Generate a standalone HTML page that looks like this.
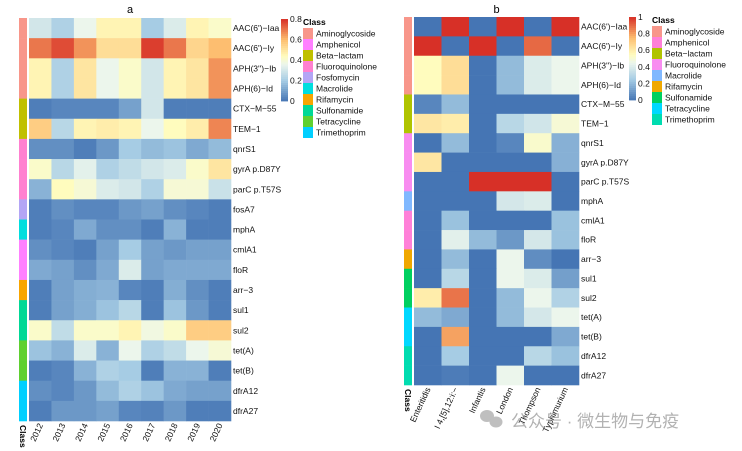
<!DOCTYPE html>
<html><head><meta charset="utf-8"><style>
body{margin:0;background:#fff;}
svg{display:block;font-family:"Liberation Sans",Arial,sans-serif;}
</style></head><body>
<svg id="chart" width="742" height="451" viewBox="0 0 742 451" xmlns="http://www.w3.org/2000/svg"></svg>
<script>
const rowsA=["AAC(6')−Iaa","AAC(6')−Iy","APH(3'')−Ib","APH(6)−Id","CTX−M−55","TEM−1","qnrS1","gyrA p.D87Y","parC p.T57S","fosA7","mphA","cmlA1","floR","arr−3","sul1","sul2","tet(A)","tet(B)","dfrA12","dfrA27"];
const colsA=["2012","2013","2014","2015","2016","2017","2018","2019","2020"];
const valuesA=[
[0.3,0.22,0.36,0.46,0.46,0.2,0.32,0.46,0.42],
[0.7,0.76,0.66,0.52,0.52,0.78,0.7,0.54,0.6],
[0.46,0.22,0.5,0.36,0.42,0.3,0.46,0.5,0.66],
[0.46,0.22,0.5,0.36,0.42,0.3,0.46,0.5,0.66],
[0.02,0.04,0.04,0.04,0.1,0.3,0.02,0.02,0.02],
[0.56,0.24,0.46,0.48,0.46,0.36,0.44,0.48,0.68],
[0.06,0.06,0.02,0.08,0.2,0.16,0.18,0.12,0.16],
[0.42,0.24,0.34,0.22,0.26,0.3,0.32,0.42,0.5],
[0.14,0.44,0.4,0.32,0.3,0.22,0.4,0.4,0.28],
[0.02,0.06,0.04,0.04,0.08,0.1,0.06,0.04,0.02],
[0.02,0.04,0.12,0.06,0.06,0.02,0.14,0.02,0.02],
[0.06,0.04,0.02,0.1,0.2,0.1,0.08,0.1,0.1],
[0.12,0.1,0.06,0.12,0.32,0.1,0.12,0.12,0.12],
[0.02,0.1,0.13,0.14,0.04,0.02,0.13,0.06,0.02],
[0.02,0.1,0.13,0.18,0.24,0.02,0.18,0.08,0.02],
[0.42,0.26,0.42,0.42,0.46,0.38,0.42,0.56,0.56],
[0.18,0.14,0.32,0.14,0.36,0.22,0.26,0.36,0.4],
[0.02,0.04,0.14,0.22,0.2,0.02,0.14,0.14,0.02],
[0.06,0.04,0.08,0.16,0.22,0.18,0.12,0.1,0.1],
[0.02,0.08,0.08,0.1,0.04,0.03,0.08,0.02,0.02]];
const classA=[0,0,0,0,2,2,3,3,3,4,5,1,1,6,7,7,8,8,9,9];
const classNamesA=["Aminoglycoside","Amphenicol","Beta−lactam","Fluoroquinolone","Fosfomycin","Macrolide","Rifamycin","Sulfonamide","Tetracycline","Trimethoprim"];
const classColorsA=["#f8968a","#ff80ff","#c0c000","#ff80d0","#b3a5f5","#00dede","#f8a500","#00d896","#5fd030","#00cfff"];
const ticksA=[0,0.2,0.4,0.6,0.8];

const rowsB=["AAC(6')−Iaa","AAC(6')−Iy","APH(3'')−Ib","APH(6)−Id","CTX−M−55","TEM−1","qnrS1","gyrA p.D87Y","parC p.T57S","mphA","cmlA1","floR","arr−3","sul1","sul2","tet(A)","tet(B)","dfrA12","dfrA27"];
const colsB=["Enteritidis","I 4,[5],12:i:−","Infantis","London","Thompson","Typhimurium"];
const valuesB=[
[0,1,0,1,0,1],
[1,0,1,0,0.9,0],
[0.55,0.65,0,0.2,0.4,0.45],
[0.55,0.65,0,0.2,0.4,0.45],
[0.05,0.2,0,0,0,0],
[0.62,0.6,0,0.3,0.37,0.5],
[0,0.2,0,0.05,0.52,0.17],
[0.62,0,0,0,0,0.17],
[0,0,1,1,1,0],
[0,0,0,0.38,0.4,0],
[0,0.22,0,0,0,0.22],
[0,0.42,0.2,0.1,0.38,0.22],
[0,0.2,0,0.45,0.07,0],
[0,0.3,0,0.45,0.4,0.12],
[0.6,0.88,0,0.2,0.45,0.28],
[0.2,0.15,0,0.2,0.38,0.45],
[0,0.8,0,0,0,0.15],
[0,0.25,0,0,0.3,0.22],
[0,0.02,0,0.45,0,0]];
const classB=[0,0,0,0,2,2,3,3,3,4,1,1,5,6,6,7,7,8,8];
const classNamesB=["Aminoglycoside","Amphenicol","Beta−lactam","Fluoroquinolone","Macrolide","Rifamycin","Sulfonamide","Tetracycline","Trimethoprim"];
const classColorsB=["#f8968a","#ff80d8","#b0c400","#f88cf0","#80b8ff","#f0a800","#00d060","#00d8ff","#00dcb0"];
const ticksB=[0,0.2,0.4,0.6,0.8,1];

const NS="http://www.w3.org/2000/svg";
const svg=document.getElementById('chart');
function mk(tag,attrs,parent,text){const e=document.createElementNS(NS,tag);for(const k in attrs)e.setAttribute(k,attrs[k]);if(text!==undefined)e.textContent=text;(parent||svg).appendChild(e);return e;}
const stops=[[0,[69,117,180]],[0.25,[166,204,228]],[0.45,[236,246,236]],[0.55,[255,252,190]],[0.75,[253,190,112]],[1,[215,48,39]]];
function color(f){f=Math.max(0,Math.min(1,f));for(let i=1;i<stops.length;i++){if(f<=stops[i][0]){const a=stops[i-1],b=stops[i];const t=(f-a[0])/(b[0]-a[0]);const c=a[1].map((v,j)=>Math.round(v+(b[1][j]-v)*t));return `rgb(${c})`;}}return 'rgb(215,48,39)';}

function panel(o){
  const g=mk('g',{});
  
  
  const cw=(o.x1-o.x0)/o.cols.length, rh=(o.y1-o.y0)/o.rows.length;
  const xs=i=>o.x0+i*cw, ys=j=>o.y0+j*rh;
  const t=mk('text',{x:(o.x0+o.x1)/2,y:13,'text-anchor':'middle','font-size':11},g,o.title);
  
  o.values.forEach((row,j)=>row.forEach((v,i)=>{
    const r=mk('rect',{x:xs(i),y:ys(j),width:cw+0.3,height:rh+0.3,fill:color(v/o.max)},g);
    
    
  }));
  o.rows.forEach((n,j)=>{
    const s=mk('rect',{x:o.sx,y:ys(j),width:8,height:rh+0.3,fill:o.classColors[o.cls[j]]},g);
    
    
    const l=mk('text',{x:o.x1+2,y:ys(j)+rh/2+3,'font-size':8.5,fill:'#111'},g,n);
    
    
  });
  o.cols.forEach((n,i)=>{
    const cx=xs(i)+cw/2+3, cy=o.y1+4;
    const l=mk('text',{x:cx,y:cy,'font-size':8.5,'text-anchor':'end',fill:'#111',transform:`rotate(-65 ${cx} ${cy})`},g,n);
    
    
  });
  const cl=mk('text',{x:o.sx+1,y:o.y1+4,'font-size':8.5,'font-weight':'bold','text-anchor':'start',transform:`rotate(90 ${o.sx+1} ${o.y1+4})`},g,'Class');
  
  // colorbar
  const n=40, cbh=o.cbBot-o.cbTop;
  for(let k=0;k<n;k++){
    const r=mk('rect',{x:o.cbx,y:o.cbBot-(k+1)*cbh/n,width:7,height:cbh/n+0.4,fill:color((k+0.5)/n)},g);
    
    
  }
  o.ticks.forEach(tk=>{
    const y=o.cbBot-tk/o.max*cbh;
    const l=mk('text',{x:o.cbx+9,y:y+3,'font-size':8.5,fill:'#111'},g,String(tk));
    
    
  });
  const lt=mk('text',{x:o.lx,y:o.ly,'font-size':8.5,'font-weight':'bold'},g,'Class');
  
  o.classNames.forEach((c,k)=>{
    const y=o.ly+3+k*11;
    const r=mk('rect',{x:o.lx,y:y,width:10,height:11,fill:o.classColors[k]},g);
    
    const l=mk('text',{x:o.lx+13,y:y+8.5,'font-size':8.5,fill:'#111'},g,c);
    
  });
}
panel({name:'panel-a',title:'a',rows:rowsA,cols:colsA,values:valuesA,max:0.8,cls:classA,classColors:classColorsA,classNames:classNamesA,ticks:ticksA,x0:29,x1:231,y0:18,y1:421,sx:19,cbx:281,cbTop:19,cbBot:101,lx:303,ly:25});
panel({name:'panel-b',title:'b',rows:rowsB,cols:colsB,values:valuesB,max:1,cls:classB,classColors:classColorsB,classNames:classNamesB,ticks:ticksB,x0:414,x1:579,y0:17,y1:385,sx:404,cbx:629,cbTop:17,cbBot:100,lx:652,ly:23});
// watermark
const wm=mk('g',{opacity:0.75});

mk('ellipse',{cx:487,cy:416,rx:7,ry:6,fill:'#aaa'},wm);
mk('ellipse',{cx:496,cy:422,rx:6.5,ry:5.5,fill:'#aaa'},wm);
mk('text',{x:511,y:427,'font-size':17,fill:'#999','font-family':'"Liberation Sans","Noto Sans CJK SC",sans-serif'},wm,'公众号 · 微生物与免疫');
</script>
</body></html>
